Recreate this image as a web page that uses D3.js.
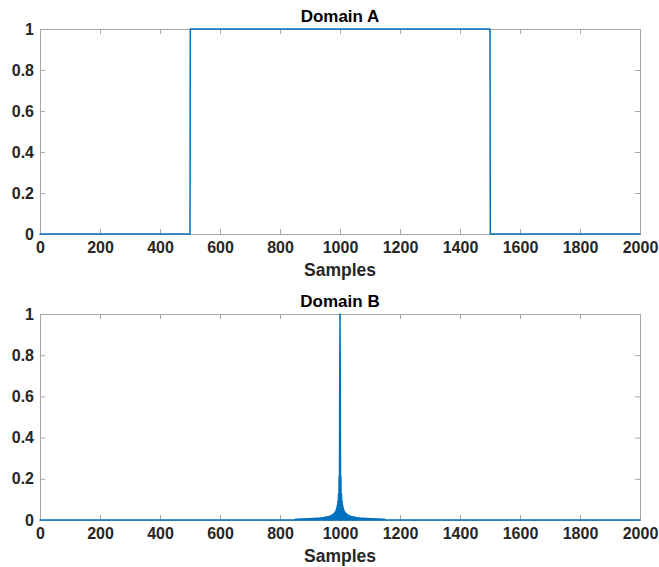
<!DOCTYPE html>
<html>
<head>
<meta charset="utf-8">
<script src="https://cdn.jsdelivr.net/npm/d3@7/dist/d3.min.js"></script>
<style>
  html, body { margin: 0; padding: 0; background: #fff; }
  svg { display: block; font-family: "Liberation Sans", Arial, sans-serif; }
</style>
</head>
<body>
<svg id="chart" width="659" height="567"></svg>
<script>
// ---- data ----
const xTicks = [0, 200, 400, 600, 800, 1000, 1200, 1400, 1600, 1800, 2000];
const yTicks = [0, 0.2, 0.4, 0.6, 0.8, 1];
const yTickLabels = ["0", "0.2", "0.4", "0.6", "0.8", "1"];

// Domain A: rectangular pulse, breakpoints (sample, amplitude)
const pulseX = [0, 500, 501, 1500, 1501, 2000];
const pulseY = [0, 0, 1, 1, 0, 0];

// Domain B: normalised magnitude, peak at the centre bin
const centreBin = 1000;
const centrePeak = 1;
// heights of the odd-offset bins (1, 3, 5, ...) either side of the centre;
// even-offset bins sit at zero
const sideLobes = [
  0.637, 0.212, 0.127, 0.091, 0.071, 0.058, 0.049, 0.042, 0.037, 0.034,
  0.030, 0.028, 0.025, 0.024, 0.022, 0.021, 0.019, 0.018, 0.017, 0.016,
  0.016, 0.015, 0.014, 0.014, 0.013, 0.012, 0.012, 0.012, 0.011, 0.011,
  0.010, 0.010, 0.010, 0.009, 0.009, 0.009, 0.009, 0.008, 0.008, 0.008,
  0.008, 0.008, 0.007, 0.007, 0.007, 0.007, 0.007, 0.007, 0.006, 0.006,
  0.006, 0.006, 0.006, 0.006, 0.006, 0.006, 0.005, 0.005, 0.005, 0.005,
  0.005, 0.005, 0.005, 0.005, 0.005, 0.005, 0.005, 0.005, 0.004, 0.004,
  0.004, 0.004, 0.004, 0.004, 0.004
];
const sampleRange = [0, 2000];

// ---- build Domain B series ----
const specPts = [[sampleRange[0], 0]];
for (let i = sideLobes.length - 1; i >= 0; i--) {
  const off = 2 * i + 1;
  specPts.push([centreBin - off - 1, 0]);
  specPts.push([centreBin - off, sideLobes[i]]);
}
specPts.push([centreBin, centrePeak]);
for (let i = 0; i < sideLobes.length; i++) {
  const off = 2 * i + 1;
  specPts.push([centreBin + off, sideLobes[i]]);
  specPts.push([centreBin + off + 1, 0]);
}
specPts.push([sampleRange[1], 0]);

// ---- layout ----
const svg = d3.select("#chart");
const left = 40, right = 640;
const panels = [
  { title: "Domain A", top: 29, bottom: 234,
    pts: pulseX.map((x, i) => [x, pulseY[i]]) },
  { title: "Domain B", top: 314, bottom: 520, pts: specPts }
];

const lineColor = "#0072BD";
const axisColor = "#a6a6a6";
const textColor = "#262626";
const tickLen = 5;

panels.forEach(p => {
  const x = d3.scaleLinear().domain(sampleRange).range([left, right]);
  const y = d3.scaleLinear().domain([0, 1]).range([p.bottom, p.top]);
  const g = svg.append("g");

  // inward ticks on all four sides
  const axBottom = d3.axisBottom(x).tickValues(xTicks).tickSize(-tickLen).tickFormat(d3.format("d")).tickPadding(6);
  const axTop = d3.axisTop(x).tickValues(xTicks).tickSize(-tickLen).tickFormat("");
  const axLeft = d3.axisLeft(y).tickValues(yTicks).tickSize(-tickLen).tickFormat((d, i) => yTickLabels[i]).tickPadding(6);
  const axRight = d3.axisRight(y).tickValues(yTicks).tickSize(-tickLen).tickFormat("");

  const gB = g.append("g").attr("transform", `translate(0,${p.bottom})`).call(axBottom);
  const gT = g.append("g").attr("transform", `translate(0,${p.top})`).call(axTop);
  const gL = g.append("g").attr("transform", `translate(${left},0)`).call(axLeft);
  const gR = g.append("g").attr("transform", `translate(${right},0)`).call(axRight);

  [gB, gT, gL, gR].forEach(a => {
    a.selectAll(".domain").attr("stroke", axisColor).attr("stroke-width", 1);
    a.selectAll(".tick line").attr("stroke", axisColor).attr("stroke-width", 1);
    a.selectAll("text")
      .attr("fill", textColor)
      .style("font-size", "16px")
      .style("font-weight", "bold")
      .style("font-family", "'Liberation Sans', Arial, sans-serif");
  });
  gB.selectAll(".tick text").attr("dy", "0.8em");

  // series
  g.append("path")
    .datum(p.pts)
    .attr("fill", "none")
    .attr("stroke", lineColor)
    .attr("stroke-width", 1.5)
    .attr("stroke-linejoin", "round")
    .attr("stroke-linecap", "round")
    .attr("d", d3.line().x(d => x(d[0])).y(d => y(d[1])));

  // title
  g.append("text")
    .attr("x", (left + right) / 2)
    .attr("y", p.top - 7)
    .attr("text-anchor", "middle")
    .attr("fill", "#000")
    .style("font-size", "17px")
    .style("font-weight", "bold")
    .text(p.title);

  // x label
  g.append("text")
    .attr("x", (left + right) / 2)
    .attr("y", p.bottom + 42)
    .attr("text-anchor", "middle")
    .attr("fill", textColor)
    .style("font-size", "17.5px")
    .style("font-weight", "bold")
    .text("Samples");
});
</script>
</body>
</html>
